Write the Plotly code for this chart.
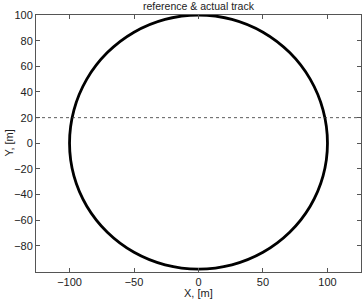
import plotly.graph_objects as go

# Track points (X, Y in metres), going counter-clockwise
track_x = [100, 96.6, 86.6, 70.7, 50, 25.9, 0, -25.9, -50, -70.7, -86.6, -96.6,
           -100, -96.6, -86.6, -70.7, -50, -25.9, 0, 25.9, 50, 70.7, 86.6, 96.6, 100]
track_y = [0, 25.9, 50, 70.7, 86.6, 96.6, 100, 96.6, 86.6, 70.7, 50, 25.9,
           0, -25.4, -49, -69.3, -84.9, -94.7, -98, -94.7, -84.9, -69.3, -49, -25.4, 0]

# Dotted reference line level
ref_line_y = 20

x_range = [-126, 126]
y_range = [-100.3, 100]
x_ticks = [-100, -50, 0, 50, 100]
y_ticks = [-80, -60, -40, -20, 0, 20, 40, 60, 80, 100]

FONT = "Liberation Sans, Arial, sans-serif"
TXT = "#222222"

W, H = 362, 300
ML, MR, MT, MB = 36, 1, 15, 28
PW, PH = W - ML - MR, H - MT - MB


def px_to_paper_y(py):
    return (H - MB - py) / PH


def px_to_paper_x(px):
    return (px - ML) / PW


fig = go.Figure()
fig.add_trace(go.Scatter(
    x=track_x, y=track_y, mode="lines",
    line=dict(color="black", width=2.8, shape="spline", smoothing=1.0),
    showlegend=False, hoverinfo="skip"))
fig.add_trace(go.Scatter(
    x=x_range, y=[ref_line_y, ref_line_y], mode="lines",
    line=dict(color="#333333", width=0.8, dash="dot"),
    showlegend=False, hoverinfo="skip"))

axis_common = dict(
    showline=True, linecolor="#555555", linewidth=1, mirror="ticks",
    ticks="inside", ticklen=4, tickcolor="#555555", tickwidth=1,
    showgrid=False, zeroline=False,
    tickfont=dict(family=FONT, size=11, color=TXT),
)

fig.update_layout(
    width=W, height=H,
    margin=dict(l=ML, r=MR, t=MT, b=MB),
    paper_bgcolor="white", plot_bgcolor="white",
    xaxis=dict(range=x_range, tickvals=x_ticks, **axis_common),
    yaxis=dict(range=y_range, tickvals=y_ticks, **axis_common),
    annotations=[
        dict(text="reference & actual track", xref="paper", yref="paper",
             x=0.5, y=px_to_paper_y(6), xanchor="center", yanchor="middle",
             showarrow=False, font=dict(family=FONT, size=10.5, color=TXT)),
        dict(text="X, [m]", xref="paper", yref="paper",
             x=0.5, y=px_to_paper_y(293), xanchor="center", yanchor="middle",
             showarrow=False, font=dict(family=FONT, size=11, color=TXT)),
        dict(text="Y, [m]", xref="paper", yref="paper",
             x=px_to_paper_x(8), y=0.5, xanchor="center", yanchor="middle",
             textangle=-90,
             showarrow=False, font=dict(family=FONT, size=11, color=TXT)),
    ],
)

fig.write_html("out.html", config={"displayModeBar": False},
               post_script="document.body.style.margin='0';document.body.style.overflow='hidden';")
